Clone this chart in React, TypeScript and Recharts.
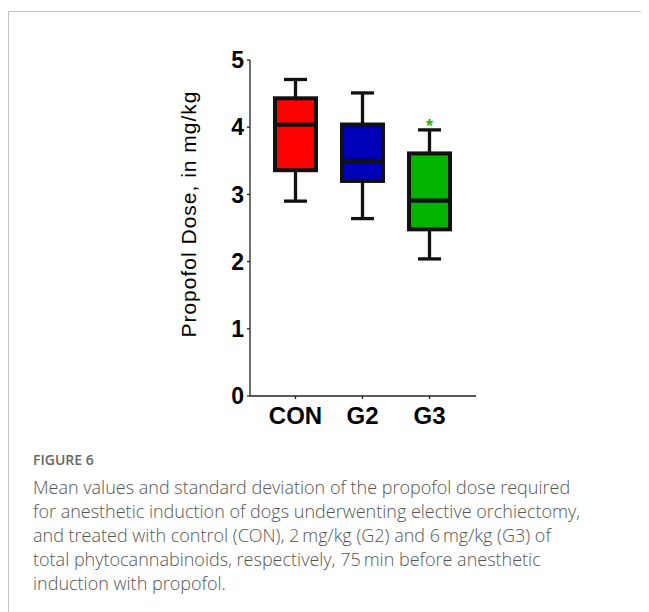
import { Bar, ComposedChart, XAxis, YAxis } from "recharts";

const groups = ["CON", "G2", "G3"];
const mins = [2.9, 2.64, 2.04];
const q1s = [3.36, 3.2, 2.48];
const medians = [4.04, 3.5, 2.91];
const q3s = [4.43, 4.04, 3.61];
const maxs = [4.71, 4.51, 3.96];
const fills = ["#ff0000", "#0000b8", "#00b400"];
const marks = ["", "", "*"];
const yTicks = [0, 1, 2, 3, 4, 5];

const captionLines = [
  "Mean values and standard deviation of the propofol dose required",
  "for anesthetic induction of dogs underwenting elective orchiectomy,",
  "and treated with control (CON), 2\u2009mg/kg (G2) and 6\u2009mg/kg (G3) of",
  "total phytocannabinoids, respectively, 75\u2009min before anesthetic",
  "induction with propofol.",
];

const data = groups.map((name, i) => ({
  name,
  base: mins[i],
  lowW: q1s[i] - mins[i],
  boxLo: medians[i] - q1s[i],
  boxHi: q3s[i] - medians[i],
  highW: maxs[i] - q3s[i],
  color: fills[i],
  mark: marks[i],
}));

const INK = "#111";
const AXIS = "#222";
const FONT = "'Liberation Sans', Arial, sans-serif";

const Empty = () => <g />;

function LowWhisker(p: any) {
  const cx = p.x + p.width / 2;
  const bottom = p.y + p.height;
  return (
    <g>
      <line x1={cx} x2={cx} y1={p.y} y2={bottom} stroke={INK} strokeWidth={3.3} />
      <line x1={cx - 11.5} x2={cx + 11.5} y1={bottom} y2={bottom} stroke={INK} strokeWidth={3.3} />
    </g>
  );
}

function HighWhisker(p: any) {
  const cx = p.x + p.width / 2;
  return (
    <g>
      <line x1={cx} x2={cx} y1={p.y} y2={p.y + p.height} stroke={INK} strokeWidth={3.3} />
      <line x1={cx - 11.5} x2={cx + 11.5} y1={p.y} y2={p.y} stroke={INK} strokeWidth={3.3} />
      {p.payload.mark ? (
        <text x={cx} y={p.y + 2} textAnchor="middle" fill="#22b422" fontSize={18} fontWeight={700} fontFamily={FONT}>
          {p.payload.mark}
        </text>
      ) : null}
    </g>
  );
}

function BoxPart(p: any) {
  return (
    <rect
      x={p.x}
      y={p.y}
      width={p.width}
      height={p.height}
      fill={p.payload.color}
      stroke={INK}
      strokeWidth={4}
    />
  );
}

export default function App() {
  return (
    <div style={{ position: "relative", width: 641, height: 604 }}>
      <style>{"body{overflow:hidden}"}</style>
      <div
        style={{
          position: "absolute",
          left: 0,
          top: 3,
          width: 700,
          height: 700,
          borderTop: "1px solid #c4c4c4",
          borderLeft: "1px solid #c4c4c4",
        }}
      />
      <div style={{ position: "absolute", left: 0, top: 0 }}>
        <ComposedChart
          width={500}
          height={440}
          data={data}
          margin={{ top: 52, right: 32, left: 182, bottom: 12 }}
        >
          <XAxis
            dataKey="name"
            height={40}
            padding={{ left: 12, right: 13 }}
            stroke={AXIS}
            strokeWidth={1.3}
            tickSize={3}
            tickMargin={8}
            tick={{ fontSize: 24, fontWeight: 700, fill: "#000", fontFamily: FONT }}
          />
          <YAxis
            type="number"
            domain={[0, 5]}
            ticks={yTicks}
            width={60}
            stroke={AXIS}
            strokeWidth={1.3}
            tickSize={3}
            tickMargin={3}
            tick={{ fontSize: 23, fontWeight: 700, fill: "#000", fontFamily: FONT }}
          />
          <Bar dataKey="base" stackId="b" barSize={41} shape={Empty} isAnimationActive={false} />
          <Bar dataKey="lowW" stackId="b" barSize={41} shape={LowWhisker} isAnimationActive={false} />
          <Bar dataKey="boxLo" stackId="b" barSize={41} shape={BoxPart} isAnimationActive={false} />
          <Bar dataKey="boxHi" stackId="b" barSize={41} shape={BoxPart} isAnimationActive={false} />
          <Bar dataKey="highW" stackId="b" barSize={41} shape={HighWhisker} isAnimationActive={false} />
        </ComposedChart>
      </div>
      <svg style={{ position: "absolute", left: 0, top: 0 }} width={220} height={440}>
        <text
          x={188}
          y={206}
          transform="rotate(-90 188 206)"
          textAnchor="middle"
          fontSize={21}
          letterSpacing={1}
          fontFamily={FONT}
          fill="#000"
        >
          Propofol Dose, in mg/kg
        </text>
      </svg>
      <div
        style={{
          position: "absolute",
          left: 25,
          top: 444,
          fontFamily: "'Open Sans', sans-serif",
          fontSize: 14,
          lineHeight: "16px",
          fontWeight: 600,
          color: "#666",
        }}
      >
        FIGURE 6
      </div>
      <div
        style={{
          position: "absolute",
          left: 25,
          top: 467,
          fontFamily: "'Open Sans', sans-serif",
          fontSize: 18,
          lineHeight: "24px",
          fontWeight: 300,
          color: "#555",
          whiteSpace: "nowrap",
        }}
      >
        {captionLines.map((l) => (
          <div key={l}>{l}</div>
        ))}
      </div>
    </div>
  );
}
